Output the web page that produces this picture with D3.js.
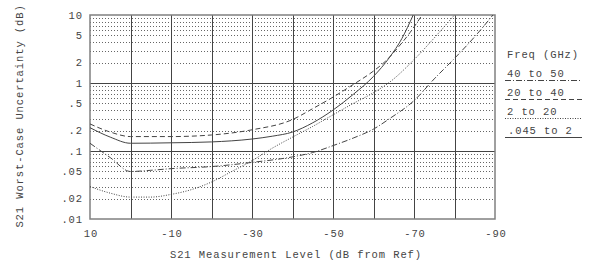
<!DOCTYPE html>
<html><head><meta charset="utf-8">
<script src="https://cdn.jsdelivr.net/npm/d3@7"></script>
<style>
html,body{margin:0;padding:0;background:#fff;}
svg text{font-family:"Liberation Mono","DejaVu Sans Mono",monospace;font-size:10.5px;fill:#444;letter-spacing:0.9px;}
</style></head>
<body><svg id="c" width="589" height="261"></svg>
<script>
// Data
const xTickValues = [10, -10, -30, -50, -70, -90];
const xGridValues = [10, 0, -10, -20, -30, -40, -50, -60, -70, -80, -90];
const yTickValues = [10, 5, 2, 1, 0.5, 0.2, 0.1, 0.05, 0.02, 0.01];
const yTickLabels = ["10", "5", "2", "1", ".5", ".2", ".1", ".05", ".02", ".01"];
const seriesNames = ["40 to 50", "20 to 40", "2 to 20", ".045 to 2"];

const level_40to50 = [10, 5, 0, -5, -10, -20, -30, -40, -45, -50, -55, -60, -64, -70, -75, -80, -85, -89.5];
const unc_40to50   = [0.13, 0.08, 0.05, 0.052, 0.055, 0.059, 0.068, 0.082, 0.095, 0.12, 0.155, 0.21, 0.3, 0.55, 1.15, 2.3, 4.8, 10];

const level_20to40 = [10, 5, 0, -10, -20, -30, -40, -45, -50, -55, -60, -63, -66, -69, -72];
const unc_20to40   = [0.25, 0.19, 0.163, 0.163, 0.172, 0.205, 0.29, 0.42, 0.62, 0.95, 1.5, 2.1, 3.3, 5.5, 10];

const level_2to20 = [10, 5, 0, -5, -10, -15, -20, -25, -30, -35, -40, -45, -50, -55, -60, -64, -70, -75, -80];
const unc_2to20   = [0.03, 0.024, 0.021, 0.021, 0.023, 0.027, 0.035, 0.05, 0.072, 0.11, 0.16, 0.23, 0.34, 0.5, 0.72, 1.03, 2.2, 4.6, 10];

const level_045to2 = [10, 5, 0, -10, -20, -30, -35, -40, -45, -50, -55, -60, -64, -67, -69.8];
const unc_045to2   = [0.22, 0.16, 0.13, 0.132, 0.136, 0.15, 0.165, 0.19, 0.26, 0.4, 0.68, 1.25, 2.4, 4.5, 10];

const seriesLevels = [level_40to50, level_20to40, level_2to20, level_045to2];
const seriesValues = [unc_40to50, unc_20to40, unc_2to20, unc_045to2];
const seriesDash = ["6,2,1,2", "5,3", "1,1.5", null];

const svg = d3.select("#c");
const L = 90, R = 495, T = 15, B = 219;
const x = d3.scaleLinear().domain([10, -90]).range([L, R]);
const y = d3.scaleLog().domain([0.01, 10]).range([B, T]);

// minor grid
const minor = [];
[0.01, 0.1, 1].forEach(d => { for (let k = 2; k <= 9; k++) minor.push(d * k); });
svg.append("g").selectAll("line").data(minor).join("line")
  .attr("x1", L).attr("x2", R)
  .attr("y1", d => Math.round(y(d)) + 0.5).attr("y2", d => Math.round(y(d)) + 0.5)
  .attr("stroke", "#666").attr("stroke-width", 1).attr("stroke-dasharray", "1,2");

// major horizontal
svg.append("g").selectAll("line").data([0.1, 1]).join("line")
  .attr("x1", L).attr("x2", R)
  .attr("y1", d => Math.round(y(d)) + 0.5).attr("y2", d => Math.round(y(d)) + 0.5)
  .attr("stroke", "#444").attr("stroke-width", 1);

// vertical grid
svg.append("g").selectAll("line").data(xGridValues.slice(1, -1)).join("line")
  .attr("x1", d => Math.round(x(d)) + 0.5).attr("x2", d => Math.round(x(d)) + 0.5)
  .attr("y1", T).attr("y2", B)
  .attr("stroke", "#444").attr("stroke-width", 1);

// frame
svg.append("rect").attr("x", L).attr("y", T).attr("width", R - L).attr("height", B - T)
  .attr("fill", "none").attr("stroke", "#808080").attr("stroke-width", 1.5);

// clip
svg.append("clipPath").attr("id", "clip").append("rect")
  .attr("x", L).attr("y", T).attr("width", R - L).attr("height", B - T);

const line = d3.line().x(d => x(d[0])).y(d => y(d[1])).curve(d3.curveMonotoneX);
const gc = svg.append("g").attr("clip-path", "url(#clip)");
seriesLevels.forEach((lv, i) => {
  const pts = lv.map((v, j) => [v, seriesValues[i][j]]);
  gc.append("path").datum(pts).attr("d", line)
    .attr("fill", "none").attr("stroke", "#444").attr("stroke-width", 1)
    .attr("stroke-dasharray", seriesDash[i]);
});

// y tick labels
svg.append("g").selectAll("text").data(yTickValues).join("text")
  .attr("x", 83).attr("y", d => y(d) + 3.5).attr("text-anchor", "end")
  .text((d, i) => yTickLabels[i]);

// x tick labels
svg.append("g").selectAll("text").data(xTickValues).join("text")
  .attr("x", d => x(d) + 1).attr("y", 237).attr("text-anchor", "middle")
  .text(d => d === 10 ? "10" : "-" + Math.abs(d));

// axis titles
svg.append("text").attr("x", 296).attr("y", 258).attr("text-anchor", "middle")
  .text("S21 Measurement Level (dB from Ref)");
svg.append("text").attr("transform", "translate(23,116) rotate(-90)").attr("text-anchor", "middle")
  .text("S21 Worst-Case Uncertainty (dB)");

// legend
svg.append("text").attr("x", 507).attr("y", 58).text("Freq (GHz)");
const legY = [77, 96, 115, 134];
seriesNames.forEach((n, i) => {
  svg.append("text").attr("x", i === 3 ? 508 : 507).attr("y", legY[i]).text(n);
  svg.append("line").attr("x1", 505).attr("x2", 582)
    .attr("y1", legY[i] + 3.5).attr("y2", legY[i] + 3.5)
    .attr("stroke", "#444").attr("stroke-width", 1)
    .attr("stroke-dasharray", seriesDash[i]);
});
</script></body></html>
